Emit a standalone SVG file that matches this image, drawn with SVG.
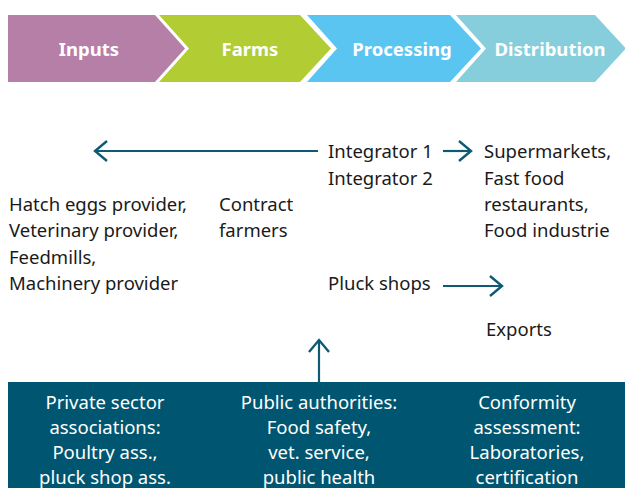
<svg xmlns="http://www.w3.org/2000/svg" width="625" height="488" viewBox="0 0 625 488">
<defs>
<style>
.hdr{font-family:"Noto Sans","Liberation Sans",sans-serif;font-size:18.5px;font-weight:bold;fill:#ffffff;text-anchor:middle}
.t{font-family:"Noto Sans","Liberation Sans",sans-serif;font-size:18.5px;fill:#1a1a1a}
.b{font-family:"Noto Sans","Liberation Sans",sans-serif;font-size:18.5px;fill:#ffffff;text-anchor:middle}
.c{stroke:#0d5a73;stroke-width:2.2;fill:none}
</style>
<marker id="ah" viewBox="0 0 16 24" refX="14" refY="12" markerWidth="16" markerHeight="24" markerUnits="userSpaceOnUse" orient="auto">
<path d="M2,2 L14,12 L2,22" fill="none" stroke="#0d5a73" stroke-width="2.4"/>
</marker>
</defs>
<rect width="625" height="488" fill="#ffffff"/>
<g id="inputs">
<polygon points="8,15 155,15 185,48.5 155,82 8,82" fill="#b57fa8"/>
<text class="hdr" x="89" y="56">Inputs</text>
</g>
<g id="farms">
<polygon points="159,15 300,15 331,48.5 300,82 159,82 189,48.5" fill="#b2cc34"/>
<text class="hdr" x="250" y="56">Farms</text>
</g>
<g id="processing">
<polygon points="307,15 450,15 481,48.5 450,82 307,82 337,48.5" fill="#5bc5f2"/>
<text class="hdr" x="402" y="56">Processing</text>
</g>
<g id="distribution">
<polygon points="456,15 595,15 626,48.5 595,82 456,82 486,48.5" fill="#86cedc"/>
<text class="hdr" x="550" y="56">Distribution</text>
</g>
<g id="connectors">
<line class="c" x1="318" y1="151" x2="95" y2="151" marker-end="url(#ah)"/>
<line class="c" x1="443" y1="151" x2="471" y2="151" marker-end="url(#ah)"/>
<line class="c" x1="443" y1="286" x2="502" y2="286" marker-end="url(#ah)"/>
<line class="c" x1="319" y1="383" x2="319" y2="340" marker-end="url(#ah)"/>
</g>
<g id="integrators">
<text class="t" x="328" y="158">Integrator 1</text>
<text class="t" x="328" y="185">Integrator 2</text>
</g>
<g id="retail">
<text class="t" x="484" y="158">Supermarkets,</text>
<text class="t" x="484" y="185">Fast food</text>
<text class="t" x="484" y="211">restaurants,</text>
<text class="t" x="484" y="237">Food industrie</text>
</g>
<g id="providers">
<text class="t" x="9" y="211">Hatch eggs provider,</text>
<text class="t" x="9" y="237">Veterinary provider,</text>
<text class="t" x="9" y="264">Feedmills,</text>
<text class="t" x="9" y="290">Machinery provider</text>
</g>
<g id="contract">
<text class="t" x="219" y="211">Contract</text>
<text class="t" x="219" y="237">farmers</text>
</g>
<g id="pluck">
<text class="t" x="328" y="290">Pluck shops</text>
</g>
<g id="exports">
<text class="t" x="486" y="336">Exports</text>
</g>
<g id="support">
<rect x="8" y="382" width="620" height="110" fill="#005670"/>
<text class="b" x="105" y="409">Private sector</text>
<text class="b" x="105" y="434">associations:</text>
<text class="b" x="105" y="459">Poultry ass.,</text>
<text class="b" x="105" y="484">pluck shop ass.</text>
<text class="b" x="319" y="409">Public authorities:</text>
<text class="b" x="319" y="434">Food safety,</text>
<text class="b" x="319" y="459">vet. service,</text>
<text class="b" x="319" y="484">public health</text>
<text class="b" x="527" y="409">Conformity</text>
<text class="b" x="527" y="434">assessment:</text>
<text class="b" x="527" y="459">Laboratories,</text>
<text class="b" x="527" y="484">certification</text>
</g>
</svg>
